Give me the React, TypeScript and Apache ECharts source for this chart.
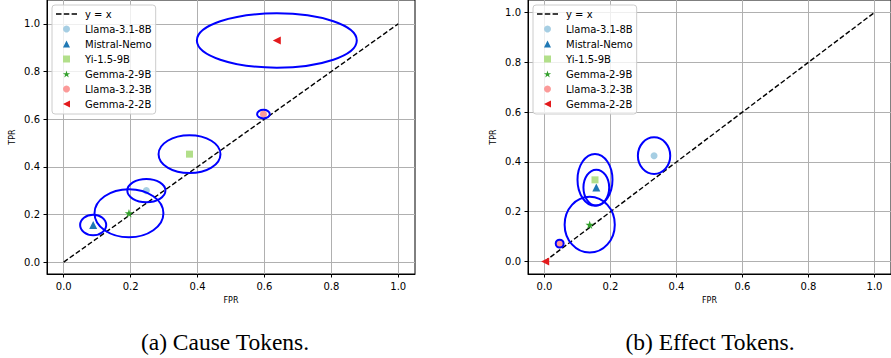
import React, { useEffect, useRef } from 'react';
import * as echarts from 'echarts';

// ---- data ----
const models = ['Llama-3.1-8B', 'Mistral-Nemo', 'Yi-1.5-9B', 'Gemma-2-9B', 'Llama-3.2-3B', 'Gemma-2-2B'];

// (a) Cause Tokens
const causeFPR = [0.247, 0.088, 0.376, 0.195, 0.597, 0.637];
const causeTPR = [0.300, 0.156, 0.453, 0.205, 0.621, 0.930];
const causeFPRerr = [0.057, 0.039, 0.0925, 0.103, 0.019, 0.239];
const causeTPRerr = [0.049, 0.043, 0.0795, 0.101, 0.018, 0.114];

// (b) Effect Tokens
const effectFPR = [0.332, 0.157, 0.153, 0.137, 0.046, 0.002];
const effectTPR = [0.425, 0.297, 0.328, 0.148, 0.072, 0.0];
const effectFPRerr = [0.049, 0.039, 0.053, 0.076, 0.012, 0];
const effectTPRerr = [0.0735, 0.072, 0.104, 0.112, 0.016, 0];

const diagonal = [[0, 0], [1, 1]];
const tickValues = [0, 0.2, 0.4, 0.6, 0.8, 1.0];
const captions = ['(a) Cause Tokens.', '(b) Effect Tokens.'];

// ---- styles ----
const STAR = 'path://M10,0L12.245,6.91L19.51,6.91L13.63,11.18L15.88,18.09L10,13.82L4.12,18.09L6.37,11.18L0.49,6.91L7.755,6.91Z';
const LEFT_TRI = 'path://M0,5L10,0L10,10Z';
const UP_TRI = 'path://M5,0L10,10L0,10Z';
const SQUARE = 'path://M0,0L10,0L10,10L0,10Z';
const DASH_ICON = 'path://M0,0L5.5,0L5.5,1.5L0,1.5Z M7.8,0L13.3,0L13.3,1.5L7.8,1.5Z M15.6,0L21,0L21,1.5L15.6,1.5Z';
const colors = ['#a6cee3', '#1f78b4', '#b2df8a', '#33a02c', '#fb9a99', '#e31a1c'];
const symbols = ['circle', UP_TRI, SQUARE, STAR, 'circle', LEFT_TRI];
const symbolSizes = [7, 8, 7, 8.5, 7, 8];
const FONT = '"DejaVu Sans", Verdana, sans-serif';

const grids = [
  { left: 47, top: -1, width: 368, height: 275, yMax: 1.1 },
  { left: 528, top: 0, width: 368, height: 274, yMax: 1.05 },
];

function makeXAxis(gridIndex: number) {
  return {
    type: 'value', gridIndex, min: -0.05, max: 1.05,
    name: 'FPR', nameLocation: 'middle', nameGap: 22,
    nameTextStyle: { fontSize: 8, color: '#000', fontFamily: FONT },
    axisLine: { show: true, onZero: false, lineStyle: { color: '#000', width: 1 } },
    axisTick: { show: true, length: 3.5, customValues: tickValues, lineStyle: { color: '#000', width: 1 } },
    axisLabel: { customValues: tickValues, formatter: (v: number) => v.toFixed(1), fontSize: 10, color: '#000', fontFamily: FONT, margin: 7 },
    splitLine: { show: true, lineStyle: { color: '#b0b0b0', width: 1 } },
  };
}
function makeYAxis(gridIndex: number, max: number) {
  return {
    type: 'value', gridIndex, min: -0.05, max,
    name: 'TPR', nameLocation: 'middle', nameGap: 31, nameRotate: 90,
    nameTextStyle: { fontSize: 8, color: '#000', fontFamily: FONT },
    axisLine: { show: true, onZero: false, lineStyle: { color: '#000', width: 1 } },
    axisTick: { show: true, length: 3.5, customValues: tickValues, lineStyle: { color: '#000', width: 1 } },
    axisLabel: { customValues: tickValues, formatter: (v: number) => v.toFixed(1), fontSize: 10, color: '#000', fontFamily: FONT, margin: 7 },
    splitLine: { show: true, lineStyle: { color: '#b0b0b0', width: 1 } },
  };
}

function panelSeries(idx: number, fpr: number[], tpr: number[], fe: number[], te: number[]) {
  const s: any[] = [];
  s.push({
    type: 'line', name: 'y = x', xAxisIndex: idx, yAxisIndex: idx,
    data: diagonal, symbol: 'none', showSymbol: false,
    itemStyle: { color: '#000' },
    lineStyle: { color: '#000', width: 1.4, type: [5, 2.4] }, z: 2,
  });
  models.forEach((m, i) => {
    s.push({
      type: 'scatter', name: m, xAxisIndex: idx, yAxisIndex: idx,
      data: [[fpr[i], tpr[i]]], symbol: symbols[i], symbolSize: symbolSizes[i],
      itemStyle: { color: colors[i], opacity: 1 }, z: 3,
    });
  });
  s.push({
    type: 'custom', name: 'ellipses', xAxisIndex: idx, yAxisIndex: idx,
    data: fpr.map((x, i) => [x, tpr[i], fe[i], te[i]]),
    renderItem: (params: any, api: any) => {
      const c = api.coord([api.value(0), api.value(1)]);
      const sz = api.size([api.value(2), api.value(3)], [api.value(0), api.value(1)]);
      if (!(sz[0] > 0) || !(sz[1] > 0)) return null;
      return {
        type: 'ellipse',
        shape: { cx: c[0], cy: c[1], rx: sz[0], ry: sz[1] },
        style: { fill: 'none', stroke: '#0000ff', lineWidth: 2 },
      };
    },
    z: 4, silent: true,
  });
  return s;
}

export default function App() {
  const ref = useRef<HTMLDivElement>(null);
  useEffect(() => {
    document.body.style.margin = '0';
    if (!ref.current) return;
    const chart = echarts.init(ref.current, undefined, { renderer: 'svg' });
    const legendData = [
      { name: 'y = x', icon: DASH_ICON, itemStyle: { color: '#000' } },
      ...models.map((m, i) => ({ name: m, icon: symbols[i] })),
    ];
    chart.setOption({
      animation: false,
      backgroundColor: '#fff',
      grid: grids.map(g => ({
        left: g.left, top: g.top, width: g.width, height: g.height,
        show: true, borderColor: '#000', borderWidth: 1, containLabel: false,
      })),
      xAxis: [makeXAxis(0), makeXAxis(1)],
      yAxis: [makeYAxis(0, grids[0].yMax), makeYAxis(1, grids[1].yMax)],
      legend: [52, 533].map(left => ({
        orient: 'vertical', left, top: 5,
        data: legendData,
        itemWidth: 21, itemHeight: 7, itemGap: 5,
        symbolKeepAspect: true,
        padding: [4, 4, 5, 4],
        backgroundColor: 'rgba(255,255,255,0.8)', borderColor: '#cccccc', borderWidth: 1, borderRadius: 3,
        textStyle: { fontSize: 10, lineHeight: 10, color: '#000', fontFamily: FONT, padding: [0, 0, 0, 3] },
        selectedMode: false,
      })),
      graphic: captions.map((t, i) => ({
        type: 'text', x: i === 0 ? 225 : 710, y: 342,
        style: { text: t, fontSize: 23.5, fontFamily: '"Liberation Serif", "Times New Roman", serif', fill: '#000', align: 'center', verticalAlign: 'middle' },
      })),
      series: [
        ...panelSeries(0, causeFPR, causeTPR, causeFPRerr, causeTPRerr),
        ...panelSeries(1, effectFPR, effectTPR, effectFPRerr, effectTPRerr),
      ],
    });
    return () => chart.dispose();
  }, []);
  return <div ref={ref} style={{ width: 891, height: 358 }} />;
}
